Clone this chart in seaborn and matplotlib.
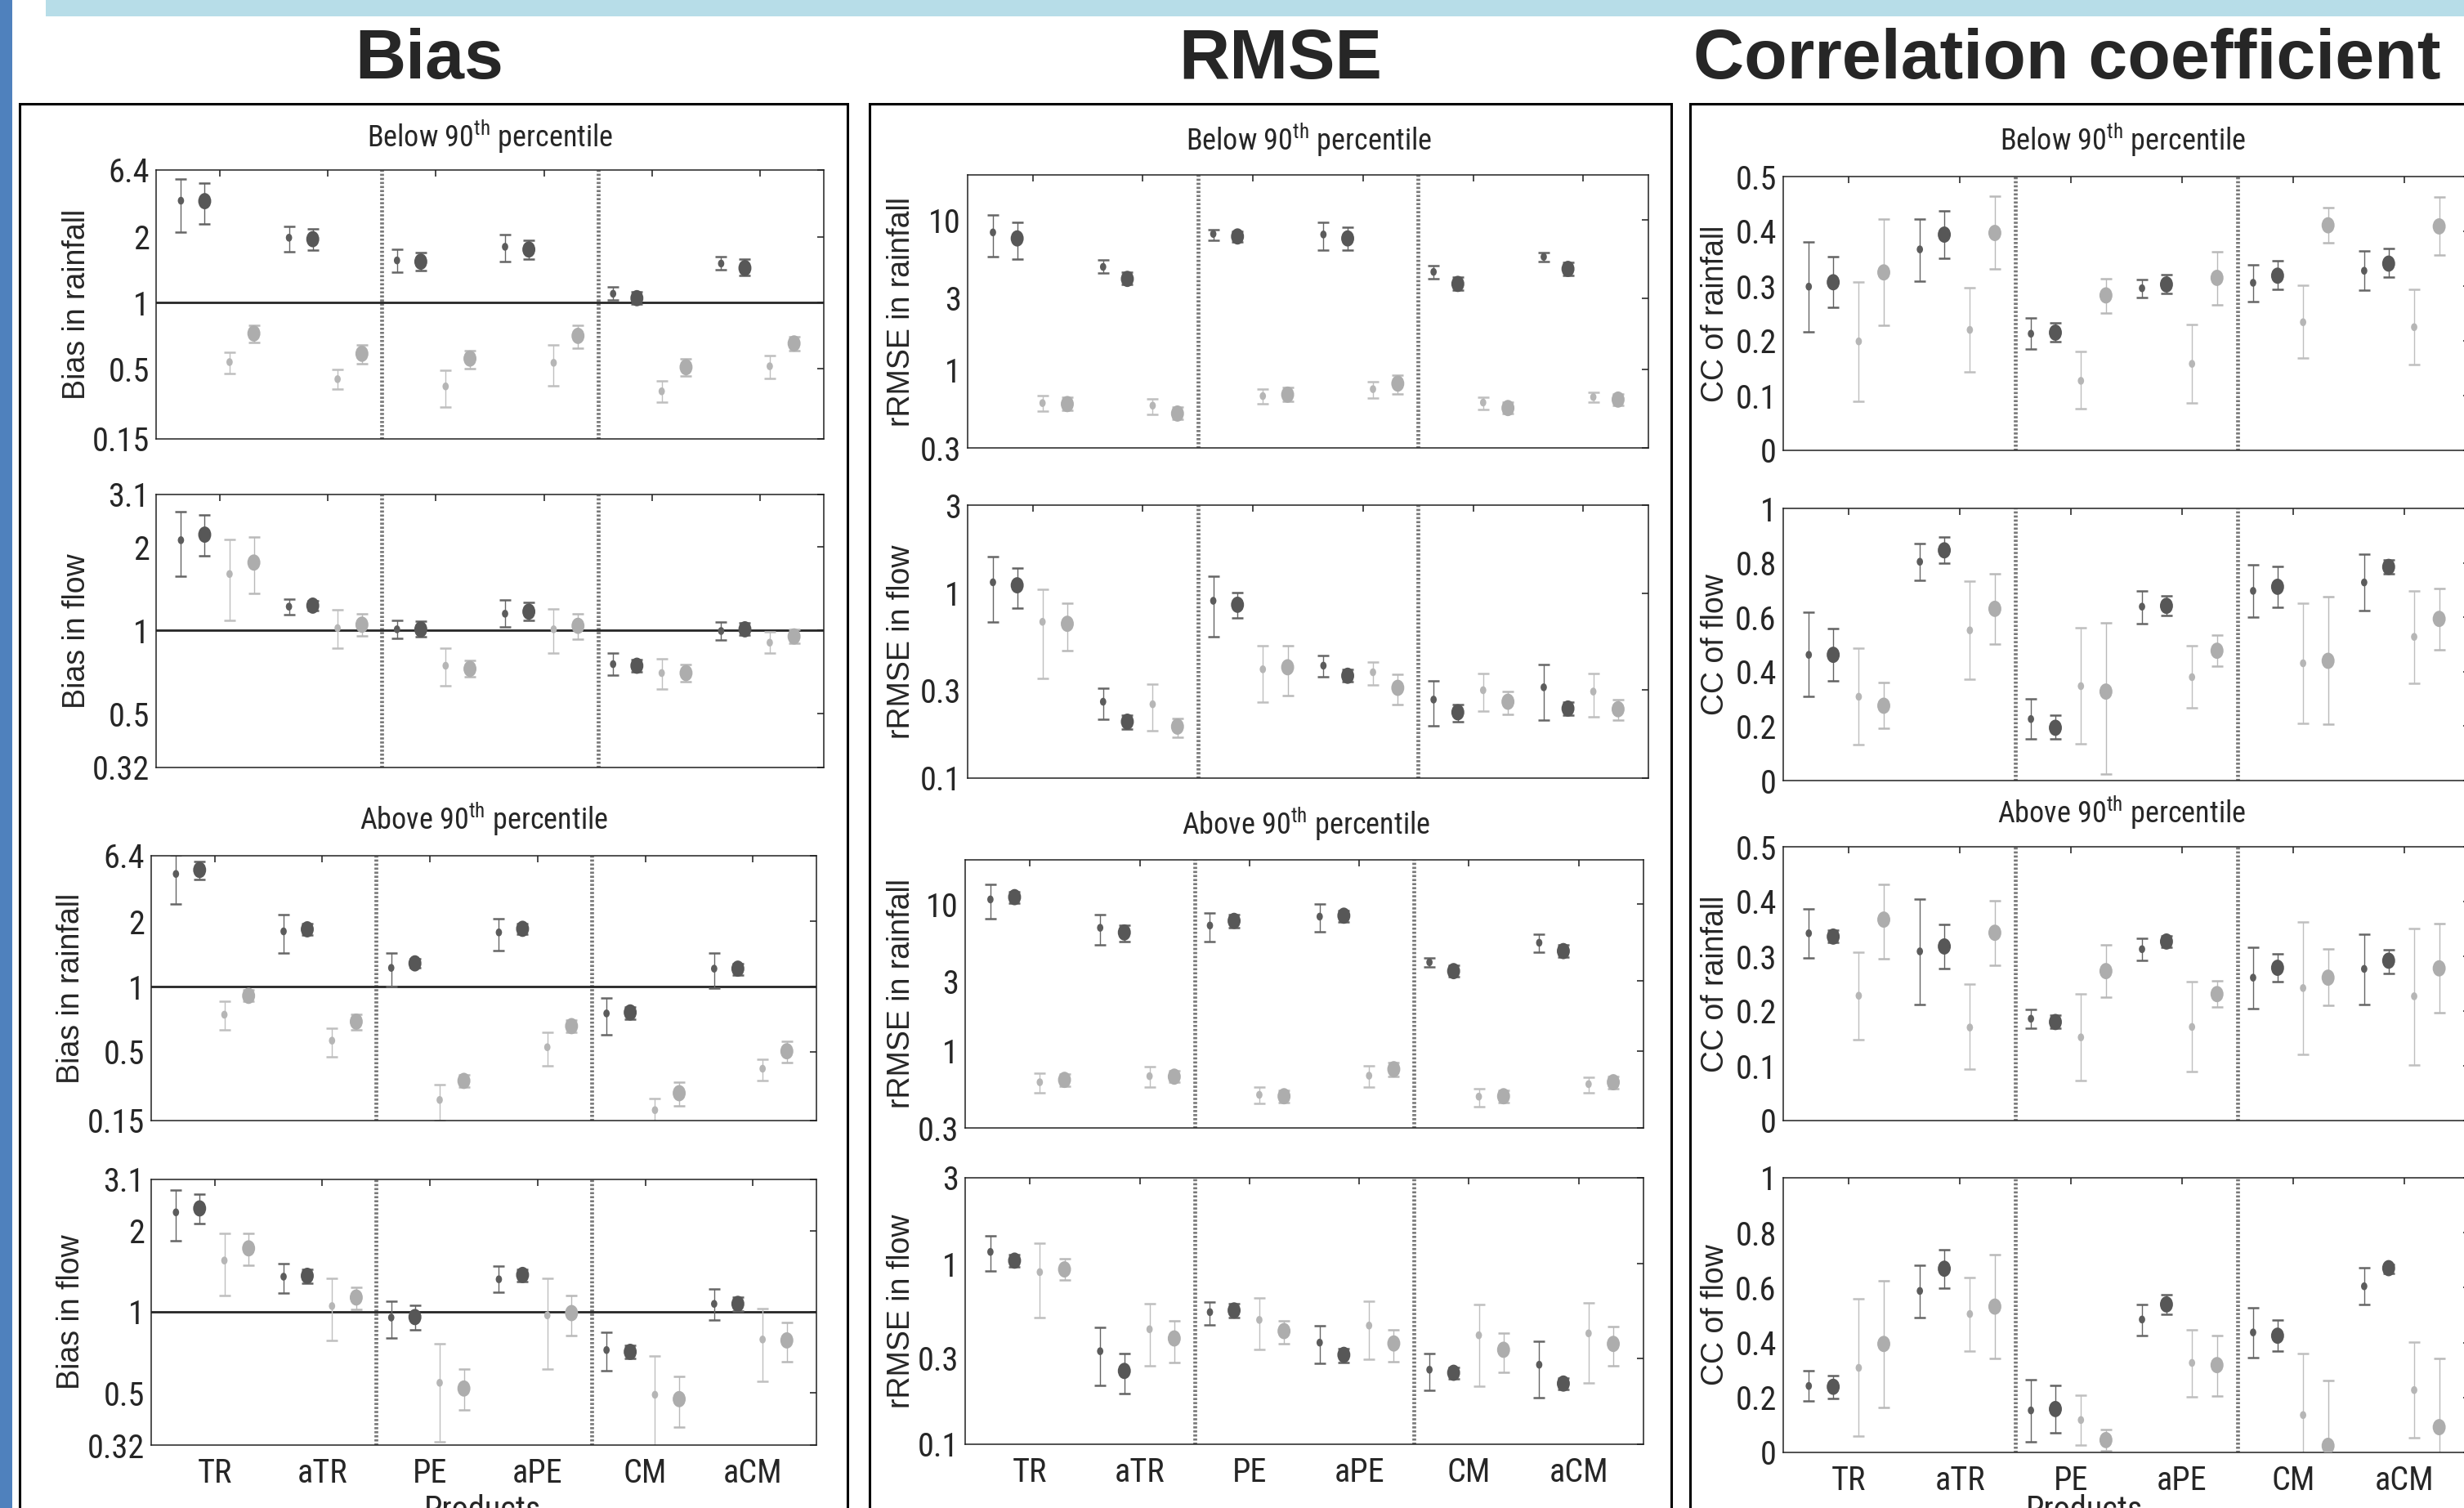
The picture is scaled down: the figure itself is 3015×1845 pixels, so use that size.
import numpy as np
import pandas as pd
import matplotlib
matplotlib.use("Agg")
import matplotlib.pyplot as plt
from matplotlib import font_manager
from matplotlib.path import Path
from matplotlib.patches import Rectangle
from matplotlib.ticker import FixedLocator, FixedFormatter, NullLocator
import seaborn as sns

W, H, DPI = 3015, 1845, 100

PRODUCTS = ["TR", "aTR", "PE", "aPE", "CM", "aCM"]
SERIES = ["sd", "bd", "sl", "bl"]

# (value, lower, upper) for each point, per product in order sd, bd, sl, bl
BIAS_RAIN_BELOW = [
    (3.75, 2.18, 5.44), (3.72, 2.51, 5.09), (0.537, 0.464, 0.595), (0.725, 0.661, 0.787),
    (1.98, 1.71, 2.41), (1.95, 1.74, 2.29), (0.419, 0.352, 0.496), (0.586, 0.527, 0.643),
    (1.56, 1.38, 1.75), (1.54, 1.40, 1.69), (0.370, 0.260, 0.488), (0.557, 0.501, 0.608),
    (1.80, 1.54, 2.09), (1.75, 1.58, 1.93), (0.533, 0.372, 0.641), (0.707, 0.623, 0.790),
    (1.10, 1.03, 1.18), (1.05, 0.985, 1.12), (0.340, 0.281, 0.405), (0.509, 0.443, 0.555),
    (1.51, 1.41, 1.62), (1.44, 1.33, 1.58), (0.514, 0.424, 0.576), (0.653, 0.605, 0.700),
]
BIAS_FLOW_BELOW = [
    (2.12, 1.57, 2.68), (2.22, 1.86, 2.62), (1.60, 1.09, 2.13), (1.76, 1.36, 2.17),
    (1.22, 1.14, 1.30), (1.23, 1.18, 1.28), (1.02, 0.862, 1.19), (1.05, 0.956, 1.15),
    (1.01, 0.937, 1.09), (1.01, 0.952, 1.08), (0.746, 0.630, 0.864), (0.727, 0.679, 0.781),
    (1.15, 1.03, 1.29), (1.17, 1.09, 1.26), (1.01, 0.828, 1.20), (1.04, 0.931, 1.15),
    (0.756, 0.691, 0.828), (0.746, 0.710, 0.786), (0.702, 0.616, 0.793), (0.702, 0.652, 0.756),
    (0.996, 0.922, 1.075), (1.01, 0.962, 1.065), (0.904, 0.828, 0.987), (0.952, 0.900, 1.007),
]
BIAS_RAIN_ABOVE = [
    (4.64, 2.74, 6.5), (4.98, 4.22, 5.78), (0.741, 0.629, 0.857), (0.906, 0.857, 0.963),
    (1.80, 1.43, 2.25), (1.84, 1.73, 1.95), (0.562, 0.456, 0.644), (0.688, 0.632, 0.741),
    (1.22, 1.0, 1.43), (1.28, 1.22, 1.35), (0.215, 0.151, 0.280), (0.300, 0.268, 0.334),
    (1.78, 1.47, 2.11), (1.85, 1.75, 1.95), (0.524, 0.392, 0.614), (0.656, 0.612, 0.700),
    (0.751, 0.600, 0.889), (0.759, 0.707, 0.806), (0.180, 0.140, 0.220), (0.242, 0.194, 0.293),
    (1.21, 0.986, 1.43), (1.21, 1.125, 1.28), (0.371, 0.302, 0.440), (0.502, 0.413, 0.559),
]
BIAS_FLOW_ABOVE = [
    (2.34, 1.83, 2.84), (2.42, 2.13, 2.73), (1.55, 1.15, 1.95), (1.72, 1.49, 1.96),
    (1.35, 1.17, 1.51), (1.36, 1.28, 1.44), (1.05, 0.78, 1.33), (1.13, 1.02, 1.23),
    (0.952, 0.798, 1.095), (0.956, 0.857, 1.058), (0.545, 0.329, 0.760), (0.519, 0.433, 0.613),
    (1.32, 1.18, 1.48), (1.37, 1.29, 1.44), (0.970, 0.615, 1.33), (0.989, 0.819, 1.15),
    (0.721, 0.604, 0.838), (0.710, 0.671, 0.751), (0.492, 0.300, 0.686), (0.474, 0.373, 0.577),
    (1.07, 0.931, 1.216), (1.07, 1.004, 1.137), (0.789, 0.551, 1.03), (0.783, 0.651, 0.913),
]
RMSE_RAIN_BELOW = [
    (8.26, 5.71, 10.8), (7.53, 5.5, 9.62), (0.598, 0.525, 0.671), (0.589, 0.533, 0.656),
    (4.86, 4.4, 5.41), (4.04, 3.69, 4.47), (0.575, 0.505, 0.641), (0.509, 0.464, 0.562),
    (8.07, 7.36, 8.58), (7.76, 7.13, 8.45), (0.666, 0.594, 0.741), (0.681, 0.617, 0.764),
    (8.0, 6.31, 9.7), (7.53, 6.31, 8.91), (0.741, 0.645, 0.832), (0.807, 0.686, 0.919),
    (4.5, 4.07, 4.97), (3.74, 3.41, 4.14), (0.603, 0.541, 0.651), (0.554, 0.509, 0.607),
    (5.67, 5.29, 6.07), (4.71, 4.24, 5.21), (0.656, 0.607, 0.708), (0.631, 0.575, 0.692),
]
RMSE_FLOW_BELOW = [
    (1.147, 0.701, 1.585), (1.105, 0.830, 1.374), (0.701, 0.347, 1.051), (0.684, 0.492, 0.883),
    (0.259, 0.208, 0.308), (0.202, 0.185, 0.220), (0.251, 0.180, 0.324), (0.190, 0.166, 0.210),
    (0.911, 0.582, 1.243), (0.867, 0.733, 1.006), (0.388, 0.257, 0.520), (0.398, 0.279, 0.520),
    (0.406, 0.354, 0.459), (0.358, 0.332, 0.386), (0.374, 0.320, 0.426), (0.308, 0.251, 0.365),
    (0.266, 0.192, 0.337), (0.227, 0.201, 0.250), (0.299, 0.230, 0.370), (0.259, 0.222, 0.295),
    (0.310, 0.207, 0.413), (0.238, 0.220, 0.257), (0.294, 0.215, 0.370), (0.236, 0.207, 0.267),
]
RMSE_RAIN_ABOVE = [
    (10.76, 7.98, 13.58), (11.15, 10.15, 12.17), (0.614, 0.519, 0.710), (0.637, 0.575, 0.700),
    (6.9, 5.27, 8.46), (6.41, 5.58, 7.2), (0.675, 0.571, 0.780), (0.670, 0.614, 0.736),
    (7.15, 5.58, 8.71), (7.69, 6.95, 8.46), (0.504, 0.442, 0.567), (0.493, 0.449, 0.542),
    (8.22, 6.5, 10.0), (8.34, 7.58, 9.1), (0.680, 0.571, 0.792), (0.753, 0.675, 0.834),
    (4.02, 3.74, 4.29), (3.5, 3.21, 3.85), (0.490, 0.420, 0.558), (0.493, 0.449, 0.542),
    (5.46, 4.69, 6.23), (4.79, 4.36, 5.27), (0.596, 0.519, 0.665), (0.614, 0.558, 0.675),
]
RMSE_FLOW_ABOVE = [
    (1.165, 0.910, 1.431), (1.042, 0.965, 1.124), (0.900, 0.503, 1.303), (0.932, 0.814, 1.067),
    (0.328, 0.211, 0.445), (0.255, 0.191, 0.320), (0.434, 0.271, 0.604), (0.386, 0.285, 0.483),
    (0.540, 0.461, 0.614), (0.552, 0.503, 0.600), (0.489, 0.334, 0.644), (0.424, 0.362, 0.483),
    (0.366, 0.281, 0.453), (0.313, 0.285, 0.339), (0.455, 0.296, 0.618), (0.362, 0.288, 0.432),
    (0.259, 0.200, 0.318), (0.249, 0.230, 0.268), (0.402, 0.210, 0.593), (0.334, 0.251, 0.414),
    (0.276, 0.182, 0.371), (0.217, 0.202, 0.234), (0.412, 0.218, 0.610), (0.360, 0.273, 0.447),
]
CC_RAIN_BELOW = [
    (0.299, 0.217, 0.381), (0.307, 0.261, 0.354), (0.199, 0.089, 0.308), (0.325, 0.228, 0.422),
    (0.367, 0.309, 0.422), (0.394, 0.351, 0.437), (0.220, 0.143, 0.297), (0.397, 0.331, 0.464),
    (0.213, 0.185, 0.242), (0.215, 0.198, 0.233), (0.127, 0.076, 0.180), (0.283, 0.251, 0.314),
    (0.296, 0.279, 0.312), (0.303, 0.286, 0.321), (0.158, 0.086, 0.230), (0.315, 0.266, 0.363),
    (0.306, 0.272, 0.339), (0.319, 0.294, 0.346), (0.234, 0.168, 0.301), (0.411, 0.379, 0.444),
    (0.328, 0.292, 0.364), (0.341, 0.316, 0.368), (0.225, 0.157, 0.294), (0.409, 0.357, 0.462),
]
CC_FLOW_BELOW = [
    (0.462, 0.308, 0.618), (0.462, 0.365, 0.560), (0.308, 0.132, 0.486), (0.275, 0.191, 0.361),
    (0.804, 0.736, 0.870), (0.846, 0.800, 0.895), (0.552, 0.372, 0.734), (0.631, 0.503, 0.761),
    (0.226, 0.152, 0.301), (0.194, 0.154, 0.239), (0.347, 0.134, 0.561), (0.327, 0.024, 0.580),
    (0.639, 0.576, 0.697), (0.642, 0.607, 0.679), (0.380, 0.268, 0.495), (0.477, 0.420, 0.536),
    (0.697, 0.600, 0.793), (0.712, 0.637, 0.787), (0.431, 0.211, 0.653), (0.440, 0.207, 0.675),
    (0.728, 0.624, 0.831), (0.785, 0.761, 0.811), (0.528, 0.358, 0.697), (0.594, 0.481, 0.706),
]
CC_RAIN_ABOVE = [
    (0.342, 0.297, 0.387), (0.336, 0.325, 0.348), (0.228, 0.148, 0.308), (0.367, 0.296, 0.431),
    (0.309, 0.212, 0.404), (0.318, 0.278, 0.358), (0.170, 0.094, 0.249), (0.343, 0.284, 0.402),
    (0.186, 0.169, 0.203), (0.180, 0.169, 0.192), (0.152, 0.073, 0.231), (0.273, 0.226, 0.321),
    (0.313, 0.293, 0.333), (0.327, 0.317, 0.338), (0.171, 0.089, 0.254), (0.231, 0.207, 0.255),
    (0.261, 0.205, 0.317), (0.279, 0.253, 0.304), (0.242, 0.121, 0.363), (0.261, 0.211, 0.313),
    (0.277, 0.212, 0.341), (0.292, 0.269, 0.312), (0.227, 0.102, 0.351), (0.278, 0.197, 0.359),
]
CC_FLOW_ABOVE = [
    (0.242, 0.188, 0.299), (0.239, 0.197, 0.281), (0.308, 0.059, 0.560), (0.395, 0.165, 0.625),
    (0.588, 0.492, 0.682), (0.669, 0.598, 0.739), (0.504, 0.368, 0.637), (0.531, 0.341, 0.721),
    (0.153, 0.040, 0.266), (0.158, 0.072, 0.245), (0.118, 0.027, 0.207), (0.045, 0.005, 0.084),
    (0.484, 0.427, 0.539), (0.539, 0.503, 0.575), (0.326, 0.202, 0.447), (0.318, 0.205, 0.427),
    (0.437, 0.346, 0.526), (0.425, 0.370, 0.482), (0.136, -0.05, 0.361), (0.024, -0.05, 0.262),
    (0.605, 0.538, 0.672), (0.671, 0.652, 0.686), (0.227, 0.054, 0.402), (0.092, -0.05, 0.341),
]

BIAS_RAIN_TICKS = [0.15, 0.5, 1, 2, 6.4]
BIAS_RAIN_LABELS = ["0.15", "0.5", "1", "2", "6.4"]
BIAS_FLOW_TICKS = [0.32, 0.5, 1, 2, 3.1]
BIAS_FLOW_LABELS = ["0.32", "0.5", "1", "2", "3.1"]
RMSE_RAIN_TICKS = [0.3, 1, 3, 10]
RMSE_RAIN_LABELS = ["0.3", "1", "3", "10"]
RMSE_FLOW_TICKS = [0.1, 0.3, 1, 3]
RMSE_FLOW_LABELS = ["0.1", "0.3", "1", "3"]
CC_RAIN_TICKS = [0, 0.1, 0.2, 0.3, 0.4, 0.5]
CC_RAIN_LABELS = ["0", "0.1", "0.2", "0.3", "0.4", "0.5"]
CC_FLOW_TICKS = [0, 0.2, 0.4, 0.6, 0.8, 1]
CC_FLOW_LABELS = ["0", "0.2", "0.4", "0.6", "0.8", "1"]

# ---------------------------------------------------------------- style
sns.set_theme(style="white")

# the reference uses a narrow sans for ticks and sub titles; take one if present
names = {f.name for f in font_manager.fontManager.ttflist}
NARROW, STRETCH = "Liberation Sans", "normal"
for cand in ["Liberation Sans Narrow", "Arial Narrow", "Roboto Condensed",
             "Noto Sans Condensed", "Open Sans Condensed", "DejaVu Sans Condensed"]:
    if cand in names:
        NARROW = cand
        break
else:
    for f in font_manager.fontManager.ttflist:
        if f.stretch in ("condensed", "semi-condensed") and f.style == "normal" and \
                f.name in ("Liberation Sans", "DejaVu Sans", "Noto Sans", "Roboto", "Open Sans"):
            NARROW, STRETCH = f.name, f.stretch
            break
narrow_found = not (NARROW == "Liberation Sans" and STRETCH == "normal")
NS = 29 if narrow_found else 25      # tick labels
TS = 26 if narrow_found else 24      # panel sub titles

plt.rcParams["font.family"] = [NARROW, "DejaVu Sans"]
plt.rcParams["font.stretch"] = STRETCH
plt.rcParams["mathtext.fontset"] = "custom"
plt.rcParams["mathtext.rm"] = NARROW
plt.rcParams["axes.edgecolor"] = "#222222"
plt.rcParams["axes.linewidth"] = 1.1

STYLE = {
    "sd": dict(mc="#5c5c5c", ec="#666666", s=48),
    "bd": dict(mc="#575757", ec="#626262", s=205),
    "sl": dict(mc="#b6b6b6", ec="#bfbfbf", s=48),
    "bl": dict(mc="#adadad", ec="#b9b9b9", s=205),
}
OFFSETS = {"sd": -0.36, "bd": -0.14, "sl": 0.09, "bl": 0.315}

circle = Path.unit_circle()
ELLIPSE = Path(circle.vertices * np.array([0.8, 1.0]), circle.codes)


def piecewise_log(ticks, pos):
    lt = np.log(np.asarray(ticks, float))
    p = np.asarray(pos, float)
    s0 = (p[1] - p[0]) / (lt[1] - lt[0])
    s1 = (p[-1] - p[-2]) / (lt[-1] - lt[-2])

    def fwd(v):
        lv = np.log(np.clip(np.asarray(v, float), 1e-12, None))
        out = np.interp(lv, lt, p)
        out = np.where(lv < lt[0], p[0] + (lv - lt[0]) * s0, out)
        return np.where(lv > lt[-1], p[-1] + (lv - lt[-1]) * s1, out)

    def inv(y):
        y = np.asarray(y, float)
        lv = np.interp(y, p, lt)
        lv = np.where(y < p[0], lt[0] + (y - p[0]) / s0, lv)
        lv = np.where(y > p[-1], lt[-1] + (y - p[-1]) / s1, lv)
        return np.exp(lv)

    return fwd, inv


def to_frame(rows):
    recs = []
    for i, (mid, lo, hi) in enumerate(rows):
        s = SERIES[i % 4]
        g = i // 4
        recs.append(dict(product=PRODUCTS[g], series=s, x=g + 1 + OFFSETS[s],
                         mid=mid, lo=lo, hi=hi))
    return pd.DataFrame(recs)


# panel: data, axes box in pixels (left, top, right, bottom), scale, ticks, labels, ylim, ylabel
PANELS = [
    (BIAS_RAIN_BELOW, (191, 208, 1008, 537), "bias", BIAS_RAIN_TICKS, BIAS_RAIN_LABELS, (0.15, 6.4), "Bias in rainfall", 105),
    (BIAS_FLOW_BELOW, (191, 605, 1008, 939), "log", BIAS_FLOW_TICKS, BIAS_FLOW_LABELS, (0.32, 3.1), "Bias in flow", 105),
    (BIAS_RAIN_ABOVE, (185, 1047, 999, 1371), "bias", BIAS_RAIN_TICKS, BIAS_RAIN_LABELS, (0.15, 6.4), "Bias in rainfall", 98),
    (BIAS_FLOW_ABOVE, (185, 1443, 999, 1768), "log", BIAS_FLOW_TICKS, BIAS_FLOW_LABELS, (0.32, 3.1), "Bias in flow", 98),
    (RMSE_RAIN_BELOW, (1184, 214, 2017, 548), "log", RMSE_RAIN_TICKS, RMSE_RAIN_LABELS, (0.3, 20), "rRMSE in rainfall", 1114),
    (RMSE_FLOW_BELOW, (1184, 618, 2017, 952), "log", RMSE_FLOW_TICKS, RMSE_FLOW_LABELS, (0.1, 3), "rRMSE in flow", 1114),
    (RMSE_RAIN_ABOVE, (1181, 1052, 2011, 1380), "log", RMSE_RAIN_TICKS, RMSE_RAIN_LABELS, (0.3, 20), "rRMSE in rainfall", 1114),
    (RMSE_FLOW_ABOVE, (1181, 1441, 2011, 1767), "log", RMSE_FLOW_TICKS, RMSE_FLOW_LABELS, (0.1, 3), "rRMSE in flow", 1114),
    (CC_RAIN_BELOW, (2182, 216, 3022, 551), "linear", CC_RAIN_TICKS, CC_RAIN_LABELS, (0, 0.5), "CC of rainfall", 2110),
    (CC_FLOW_BELOW, (2182, 622, 3022, 955), "linear", CC_FLOW_TICKS, CC_FLOW_LABELS, (0, 1), "CC of flow", 2110),
    (CC_RAIN_ABOVE, (2182, 1036, 3022, 1371), "linear", CC_RAIN_TICKS, CC_RAIN_LABELS, (0, 0.5), "CC of rainfall", 2110),
    (CC_FLOW_ABOVE, (2182, 1441, 3022, 1777), "linear", CC_FLOW_TICKS, CC_FLOW_LABELS, (0, 1), "CC of flow", 2110),
]

fig = plt.figure(figsize=(W / DPI, H / DPI), dpi=DPI)
fig.patch.set_facecolor("white")

# page decorations: blue side strip, banner and the three framed boxes
fig.patches.append(Rectangle((0, 0), 15 / W, 1, transform=fig.transFigure,
                             facecolor="#4f81bd", edgecolor="none", zorder=0))
fig.patches.append(Rectangle((56 / W, 1 - 20 / H), 1, 20 / H, transform=fig.transFigure,
                             facecolor="#b7dde8", edgecolor="none", zorder=0))
for left, right in [(24, 1037), (1064, 2045), (2068, 3100)]:
    fig.patches.append(Rectangle((left / W, -0.1), (right - left) / W, 1.1 - 127 / H,
                                 transform=fig.transFigure, fill=False,
                                 edgecolor="black", linewidth=2.2, zorder=0))

for i, (rows, (l, t, r, b), kind, ticks, labels, ylim, ylab, lab_right) in enumerate(PANELS):
    ax = fig.add_axes([l / W, 1 - b / H, (r - l) / W, (b - t) / H])
    ax.set_facecolor("white")
    if kind == "bias":
        fwd, inv = piecewise_log(ticks, [0, 1.06, 2.06, 3.06, 4.07])
        ax.set_yscale("function", functions=(fwd, inv))
    elif kind == "log":
        ax.set_yscale("log")
    ax.set_xlim(0.41, 6.59)
    ax.set_ylim(*ylim)

    df = to_frame(rows)
    for s in SERIES:
        sub = df[df.series == s]
        st = STYLE[s]
        ax.errorbar(sub.x, sub.mid,
                    yerr=[np.clip(sub.mid - sub.lo, 0, None), np.clip(sub.hi - sub.mid, 0, None)],
                    fmt="none", ecolor=st["ec"], elinewidth=1.0, capsize=4.8,
                    capthick=1.8, zorder=2)
        sns.scatterplot(data=sub, x="x", y="mid", ax=ax, color=st["mc"], s=st["s"],
                        marker=ELLIPSE, linewidth=0, edgecolor="none", zorder=3,
                        legend=False)

    for xv in (2.5, 4.5):
        ax.axvline(xv, color="#787878", lw=3.4, ls=(0, (0.55, 0.5)), zorder=1)
    if i < 4:
        ax.axhline(1, color="#262626", lw=2.0, zorder=1.5)

    ax.yaxis.set_major_locator(FixedLocator(ticks))
    ax.yaxis.set_major_formatter(FixedFormatter(labels))
    ax.yaxis.set_minor_locator(NullLocator())
    ax.set_xticks(range(1, 7))
    bottom = i % 4 == 3
    ax.set_xticklabels(PRODUCTS if bottom else [])
    ax.tick_params(axis="both", which="both", direction="in", top=True, right=True,
                   length=6, width=1.1, color="#1a1a1a", labelsize=NS, pad=6)
    ax.tick_params(axis="x", pad=11)
    for sp in ax.spines.values():
        sp.set_visible(True)
        sp.set_color("#222222")
        sp.set_linewidth(1.1)

    ax.set_ylabel(ylab, fontsize=27, family=["Liberation Sans", "DejaVu Sans"],
                  stretch="normal")
    ax.yaxis.set_label_coords((lab_right + 7 - l) / (r - l), 0.5)
    if bottom and i != 7:
        ax.set_xlabel("Products", fontsize=NS)
        cx = 590 if i == 3 else 2550
        ax.xaxis.set_label_coords((cx - l) / (r - l), -(1828 - b) / (b - t))
    else:
        ax.set_xlabel("")

# column titles and sub titles
for txt, cx in [("Bias", 525), ("RMSE", 1567), ("Correlation coefficient", 2529)]:
    fig.text(cx / W, 1 - 74 / H, txt, ha="center", va="center", fontsize=62,
             fontweight="bold", family=["Liberation Sans", "DejaVu Sans"], stretch="normal")
for cx, cy in [(600, 167), (1602, 171), (2598, 171)]:
    fig.text(cx / W, 1 - cy / H, r"Below 90$^{\mathrm{th}}$ percentile",
             ha="center", va="center", fontsize=TS)
for cx, cy in [(592, 1002), (1598, 1008), (2596, 994)]:
    fig.text(cx / W, 1 - cy / H, r"Above 90$^{\mathrm{th}}$ percentile",
             ha="center", va="center", fontsize=TS)

fig.savefig("out.png", dpi=DPI, facecolor="white")
